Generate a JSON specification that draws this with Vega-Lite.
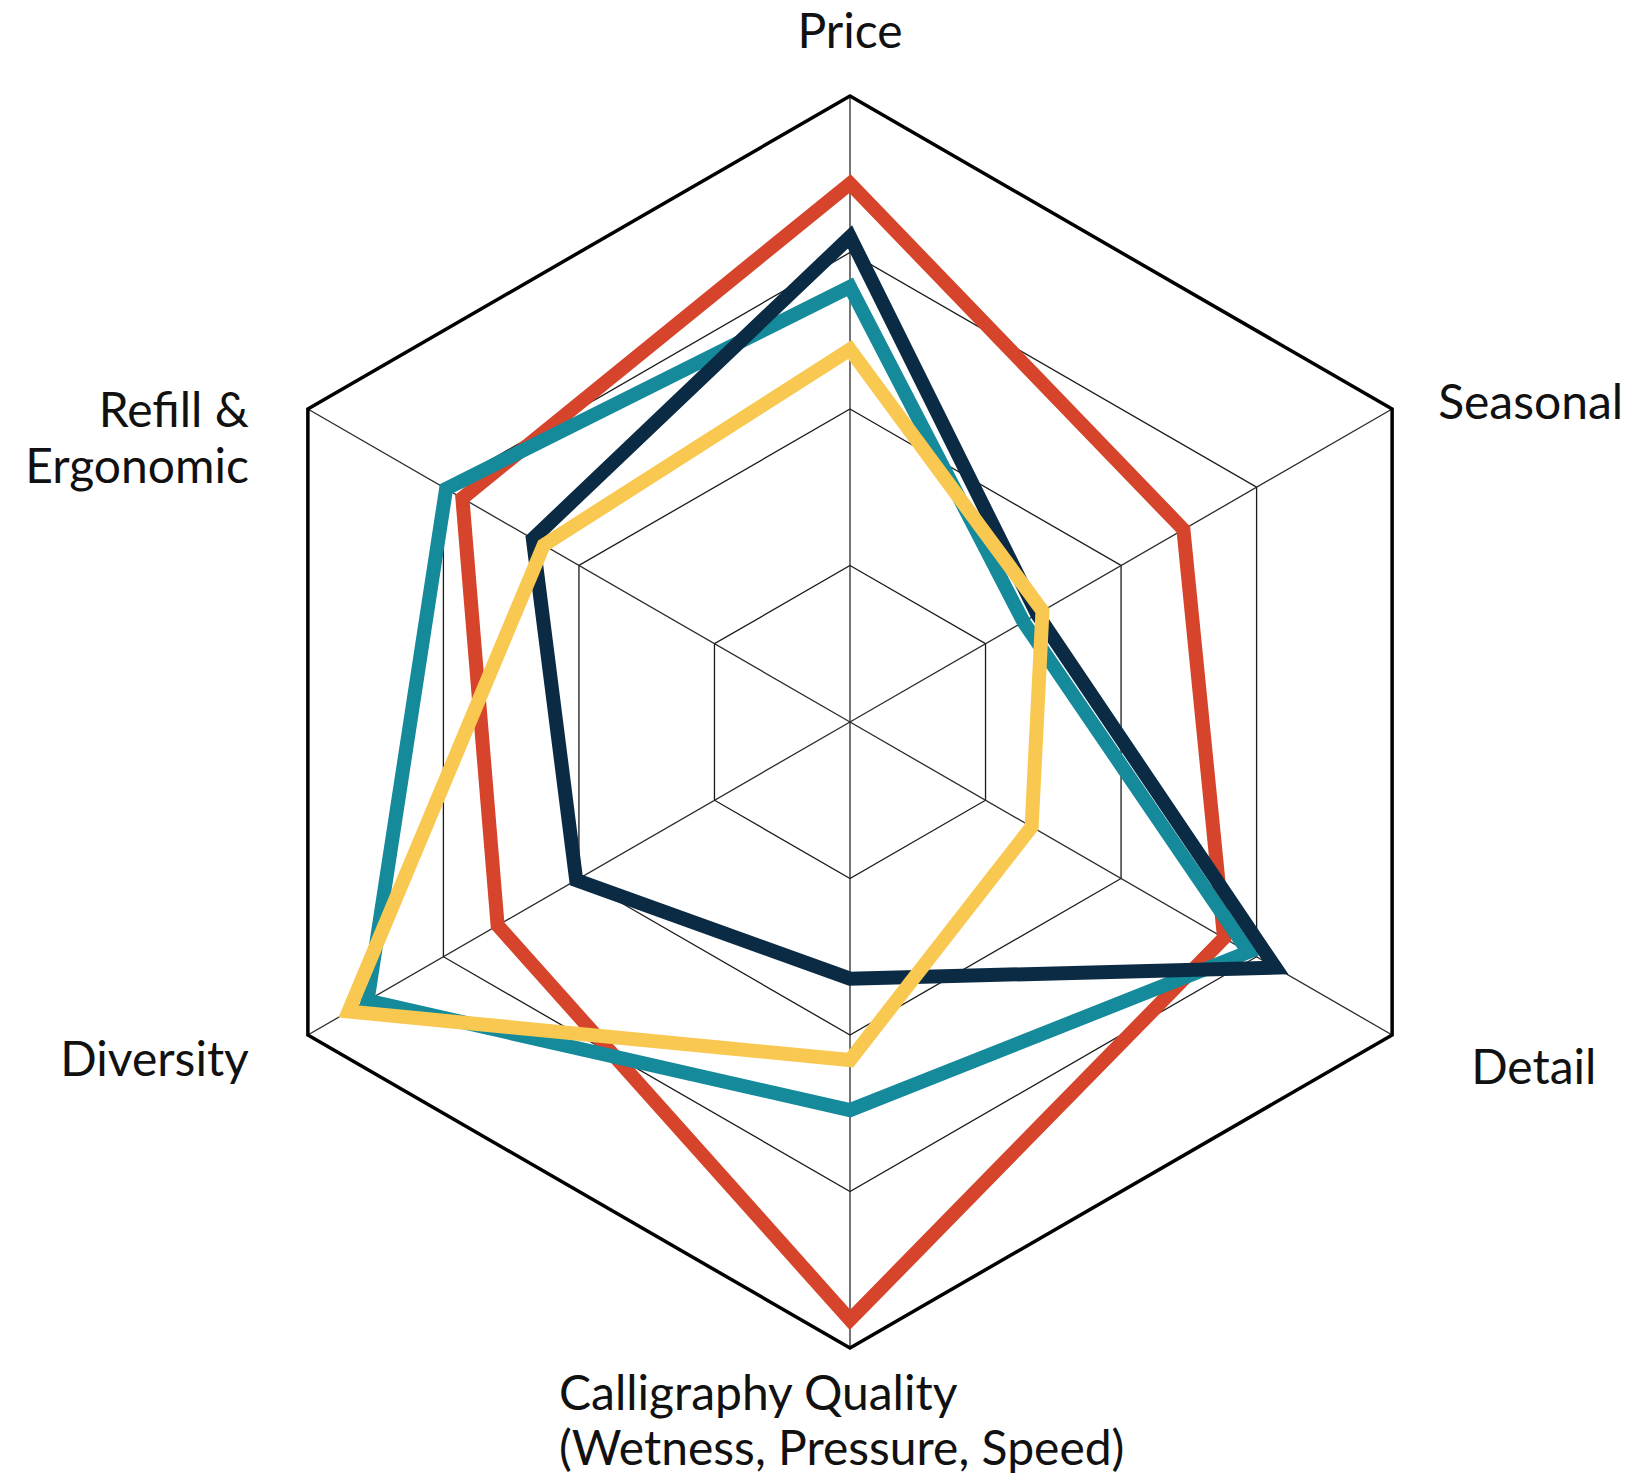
{
  "$schema": "https://vega.github.io/schema/vega-lite/v6.json",
  "width": 1648,
  "height": 1479,
  "padding": 0,
  "autosize": {"type": "none"},
  "background": "white",
  "config": {"view": {"stroke": null}},
  "datasets": {
    "axes": [
      {"axis": "Price", "label": "Price"},
      {"axis": "Seasonal", "label": "Seasonal"},
      {"axis": "Detail", "label": "Detail"},
      {"axis": "Calligraphy Quality", "label": "Calligraphy Quality\n(Wetness, Pressure, Speed)"},
      {"axis": "Diversity", "label": "Diversity"},
      {"axis": "Refill & Ergonomic", "label": "Refill &\nErgonomic"}
    ],
    "grid": [
      {"level": 0.25, "axis": ["Price", "Seasonal", "Detail", "Calligraphy Quality", "Diversity", "Refill & Ergonomic"]},
      {"level": 0.5, "axis": ["Price", "Seasonal", "Detail", "Calligraphy Quality", "Diversity", "Refill & Ergonomic"]},
      {"level": 0.75, "axis": ["Price", "Seasonal", "Detail", "Calligraphy Quality", "Diversity", "Refill & Ergonomic"]},
      {"level": 1, "axis": ["Price", "Seasonal", "Detail", "Calligraphy Quality", "Diversity", "Refill & Ergonomic"]}
    ],
    "scores": [
      {"series": "Brand 1", "axis": "Price", "score": 86},
      {"series": "Brand 1", "axis": "Seasonal", "score": 61.5},
      {"series": "Brand 1", "axis": "Detail", "score": 69},
      {"series": "Brand 1", "axis": "Calligraphy Quality", "score": 95.5},
      {"series": "Brand 1", "axis": "Diversity", "score": 65},
      {"series": "Brand 1", "axis": "Refill & Ergonomic", "score": 71.5},
      {"series": "Brand 2", "axis": "Price", "score": 69.5},
      {"series": "Brand 2", "axis": "Seasonal", "score": 32},
      {"series": "Brand 2", "axis": "Detail", "score": 73.5},
      {"series": "Brand 2", "axis": "Calligraphy Quality", "score": 62},
      {"series": "Brand 2", "axis": "Diversity", "score": 89},
      {"series": "Brand 2", "axis": "Refill & Ergonomic", "score": 74.5},
      {"series": "Brand 3", "axis": "Price", "score": 77.5},
      {"series": "Brand 3", "axis": "Seasonal", "score": 34.5},
      {"series": "Brand 3", "axis": "Detail", "score": 78.5},
      {"series": "Brand 3", "axis": "Calligraphy Quality", "score": 41},
      {"series": "Brand 3", "axis": "Diversity", "score": 50.5},
      {"series": "Brand 3", "axis": "Refill & Ergonomic", "score": 58.5},
      {"series": "Brand 4", "axis": "Price", "score": 59.5},
      {"series": "Brand 4", "axis": "Seasonal", "score": 35.5},
      {"series": "Brand 4", "axis": "Detail", "score": 33.5},
      {"series": "Brand 4", "axis": "Calligraphy Quality", "score": 54},
      {"series": "Brand 4", "axis": "Diversity", "score": 92.5},
      {"series": "Brand 4", "axis": "Refill & Ergonomic", "score": 56.5}
    ]
  },
  "encoding": {
    "x": {"field": "px", "type": "quantitative", "scale": {"domain": [-1.35783, 1.27476], "nice": false, "zero": false}, "axis": null},
    "y": {"field": "py", "type": "quantitative", "scale": {"domain": [-1.20927, 1.15335], "nice": false, "zero": false}, "axis": null}
  },
  "layer": [
    {
      "data": {"name": "grid"},
      "transform": [
        {"flatten": ["axis"]},
        {"filter": "datum.level < 1"},
        {"calculate": "indexof(['Price','Seasonal','Detail','Calligraphy Quality','Diversity','Refill & Ergonomic'], datum.axis)", "as": "idx"},
        {"calculate": "datum.level * sin(datum.idx * PI / 3)", "as": "px"},
        {"calculate": "datum.level * cos(datum.idx * PI / 3)", "as": "py"}
      ],
      "mark": {"type": "line", "interpolate": "linear-closed", "stroke": "#1a1a1a", "strokeWidth": 1.3, "strokeJoin": "miter"},
      "encoding": {
        "detail": {"field": "level", "type": "nominal"},
        "order": {"field": "idx", "type": "quantitative"}
      }
    },
    {
      "data": {"name": "axes"},
      "transform": [
        {"calculate": "indexof(['Price','Seasonal','Detail','Calligraphy Quality','Diversity','Refill & Ergonomic'], datum.axis)", "as": "idx"},
        {"calculate": "sin(datum.idx * PI / 3)", "as": "px"},
        {"calculate": "cos(datum.idx * PI / 3)", "as": "py"}
      ],
      "mark": {"type": "rule", "stroke": "#2a2a2a", "strokeWidth": 1.3},
      "encoding": {
        "x2": {"datum": 0},
        "y2": {"datum": 0}
      }
    },
    {
      "data": {"name": "grid"},
      "transform": [
        {"flatten": ["axis"]},
        {"filter": "datum.level == 1"},
        {"calculate": "indexof(['Price','Seasonal','Detail','Calligraphy Quality','Diversity','Refill & Ergonomic'], datum.axis)", "as": "idx"},
        {"calculate": "datum.level * sin(datum.idx * PI / 3)", "as": "px"},
        {"calculate": "datum.level * cos(datum.idx * PI / 3)", "as": "py"}
      ],
      "mark": {"type": "line", "interpolate": "linear-closed", "stroke": "#000000", "strokeWidth": 3.5, "strokeJoin": "miter"},
      "encoding": {
        "detail": {"field": "level", "type": "nominal"},
        "order": {"field": "idx", "type": "quantitative"}
      }
    },
    {
      "data": {"name": "scores"},
      "transform": [
        {"calculate": "indexof(['Price','Seasonal','Detail','Calligraphy Quality','Diversity','Refill & Ergonomic'], datum.axis)", "as": "idx"},
        {"calculate": "datum.score / 100 * sin(datum.idx * PI / 3)", "as": "px"},
        {"calculate": "datum.score / 100 * cos(datum.idx * PI / 3)", "as": "py"}
      ],
      "mark": {"type": "line", "interpolate": "linear-closed", "strokeWidth": 14, "strokeJoin": "miter", "strokeMiterLimit": 10},
      "encoding": {
        "color": {
          "field": "series",
          "type": "nominal",
          "scale": {"domain": ["Brand 1", "Brand 2", "Brand 3", "Brand 4"], "range": ["#d6452b", "#148a9b", "#0b2a43", "#f9c851"]},
          "legend": null
        },
        "order": {"field": "idx", "type": "quantitative"}
      }
    },
    {
      "data": {"name": "axes"},
      "transform": [
        {"calculate": "indexof(['Price','Seasonal','Detail','Calligraphy Quality','Diversity','Refill & Ergonomic'], datum.axis)", "as": "idx"},
        {"calculate": "sin(datum.idx * PI / 3)", "as": "px"},
        {"calculate": "cos(datum.idx * PI / 3)", "as": "py"}
      ],
      "encoding": {
        "text": {"field": "label", "type": "nominal"}
      },
      "layer": [
        {
          "transform": [{"filter": "datum.axis == 'Price'"}],
          "mark": {"type": "text", "font": "Lato", "fontSize": 48, "fill": "#111111", "align": "center", "baseline": "alphabetic", "dy": -48, "lineBreak": "\n"}
        },
        {
          "transform": [{"filter": "datum.axis == 'Seasonal'"}],
          "mark": {"type": "text", "font": "Lato", "fontSize": 48, "fill": "#111111", "align": "left", "baseline": "alphabetic", "dx": 46, "dy": 10, "lineBreak": "\n"}
        },
        {
          "transform": [{"filter": "datum.axis == 'Detail'"}],
          "mark": {"type": "text", "font": "Lato", "fontSize": 48, "fill": "#111111", "align": "left", "baseline": "alphabetic", "dx": 79, "dy": 49, "lineBreak": "\n"}
        },
        {
          "transform": [{"filter": "datum.axis == 'Calligraphy Quality'"}],
          "mark": {"type": "text", "font": "Lato", "fontSize": 48, "fill": "#111111", "align": "left", "baseline": "alphabetic", "dx": -291, "dy": 62, "lineHeight": 55, "lineBreak": "\n"}
        },
        {
          "transform": [{"filter": "datum.axis == 'Diversity'"}],
          "mark": {"type": "text", "font": "Lato", "fontSize": 48, "fill": "#111111", "align": "right", "baseline": "alphabetic", "dx": -59, "dy": 41, "lineBreak": "\n"}
        },
        {
          "transform": [{"filter": "datum.axis == 'Refill & Ergonomic'"}],
          "mark": {"type": "text", "font": "Lato", "fontSize": 48, "fill": "#111111", "align": "right", "baseline": "alphabetic", "dx": -59, "dy": 18, "lineHeight": 56, "lineBreak": "\n"}
        }
      ]
    }
  ]
}
